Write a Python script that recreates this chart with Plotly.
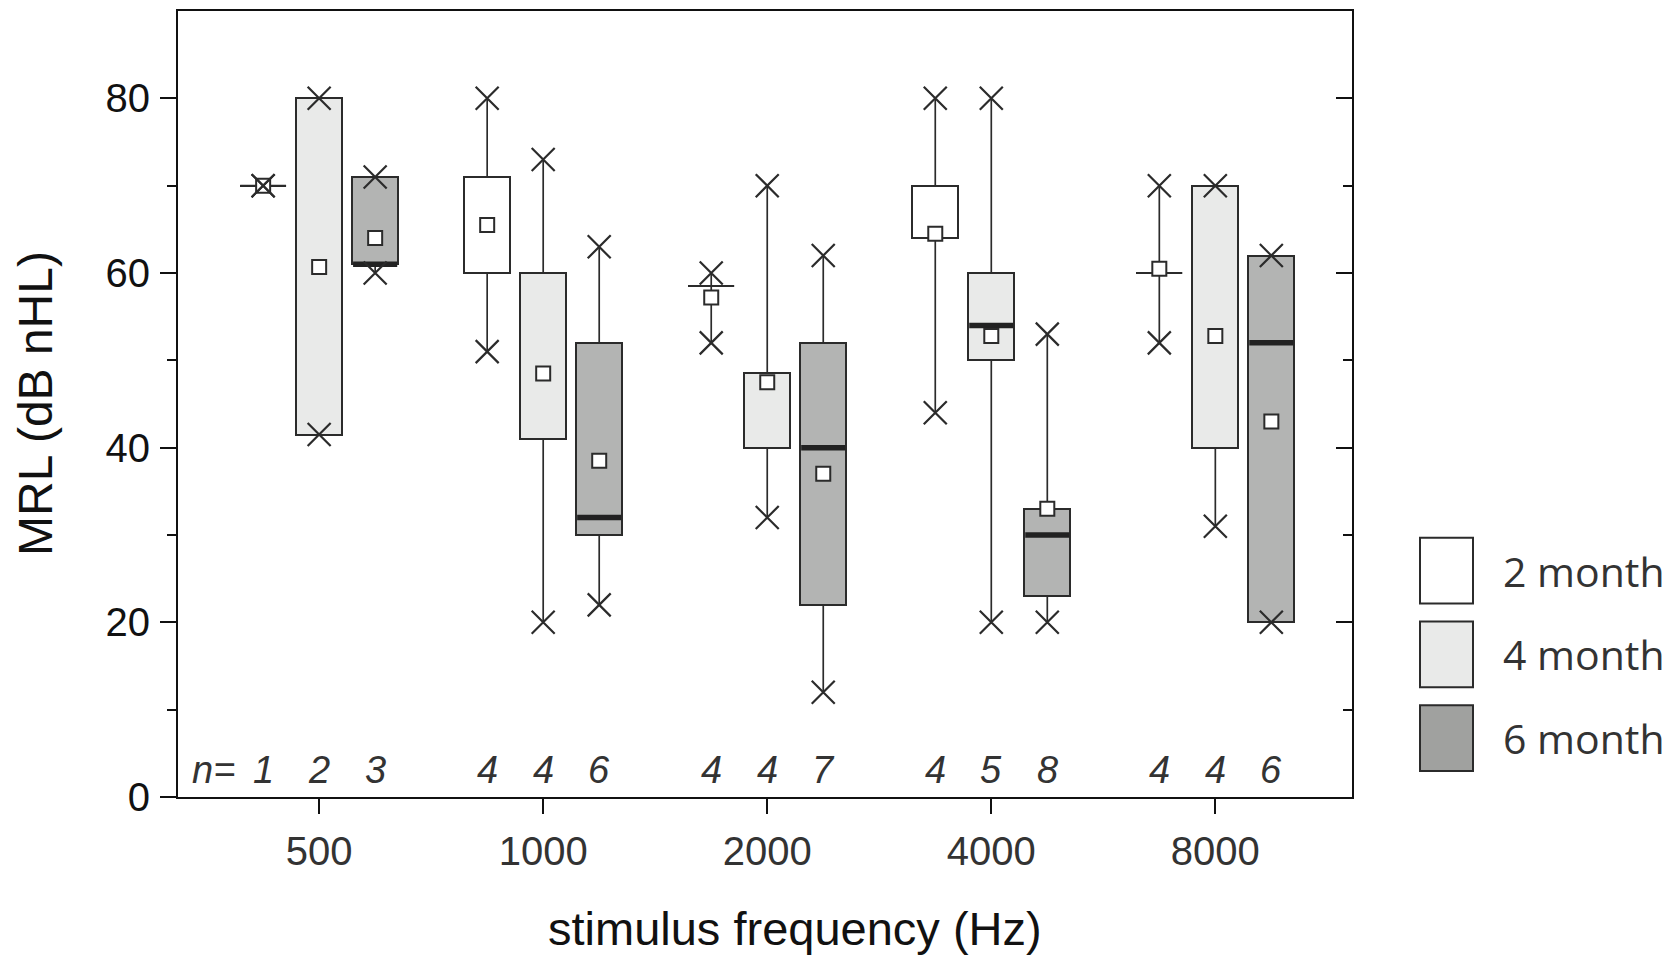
import plotly.graph_objects as go

# ---------------- data ----------------
freqs = ["500", "1000", "2000", "4000", "8000"]
groups = ["2 month", "4 month", "6 month"]

q1_2m = [70, 60, 58.5, 64, 60]
q3_2m = [70, 71, 58.5, 70, 60]
med_2m = [None, None, None, None, None]
min_2m = [70, 51, 52, 44, 52]
max_2m = [70, 80, 60, 80, 70]
mean_2m = [70, 65.5, 57.2, 64.5, 60.5]
n_2m = [1, 4, 4, 4, 4]

q1_4m = [41.5, 41, 40, 50, 40]
q3_4m = [80, 60, 48.5, 60, 70]
med_4m = [None, None, None, 54, None]
min_4m = [41.5, 20, 32, 20, 31]
max_4m = [80, 73, 70, 80, 70]
mean_4m = [60.7, 48.5, 47.5, 52.8, 52.8]
n_4m = [2, 4, 4, 5, 4]

q1_6m = [61, 30, 22, 23, 20]
q3_6m = [71, 52, 52, 33, 62]
med_6m = [61, 32, 40, 30, 52]
min_6m = [60, 22, 12, 20, 20]
max_6m = [71, 63, 62, 53, 62]
mean_6m = [64, 38.5, 37, 33, 43]
n_6m = [3, 6, 7, 8, 6]

y_ticks = [0, 20, 40, 60, 80]
y_minor = [10, 30, 50, 70]

# ---------------- style ----------------
PAGE_OFF = 8                      # default body margin of the html page
W, H = 1670 - PAGE_OFF, 958 - PAGE_OFF
ML, MR, MT, MB = 170, 318, 1, 161
LC = "#2b2b2b"
AX = "#111111"
FONT = "Liberation Sans, Arial, sans-serif"
fills = ["#ffffff", "#e9eae9", "#b3b4b3"]
legend_fills = ["#ffffff", "#e9eae9", "#a0a19f"]
offsets = [-0.25, 0.0, 0.25]
BOXW = 0.205

stats = [
    (q1_2m, q3_2m, med_2m, min_2m, max_2m, mean_2m, n_2m),
    (q1_4m, q3_4m, med_4m, min_4m, max_4m, mean_4m, n_4m),
    (q1_6m, q3_6m, med_6m, min_6m, max_6m, mean_6m, n_6m),
]

fig = go.Figure()
annotations = []

for k, (q1, q3, med, mn, mx, mean, n) in enumerate(stats):
    pos = [i + offsets[k] for i in range(len(freqs))]
    # boxes
    fig.add_trace(go.Bar(
        x=pos, y=[b - a for a, b in zip(q1, q3)], base=q1, width=BOXW,
        marker=dict(color=fills[k], line=dict(color=LC, width=2)),
        showlegend=False, hoverinfo="skip", name=groups[k]))
    # whiskers
    wx, wy = [], []
    for p, a, b, lo, hi in zip(pos, q1, q3, mn, mx):
        if lo < a:
            wx += [p, p, None]; wy += [lo, a, None]
        if hi > b:
            wx += [p, p, None]; wy += [b, hi, None]
    fig.add_trace(go.Scatter(x=wx, y=wy, mode="lines",
                             line=dict(color=LC, width=1.7),
                             showlegend=False, hoverinfo="skip"))
    # degenerate boxes (q1 == q3) drawn as thin line
    dx, dy = [], []
    for p, a, b in zip(pos, q1, q3):
        if a == b:
            dx += [p - BOXW / 2, p + BOXW / 2, None]; dy += [a, a, None]
    if dx:
        fig.add_trace(go.Scatter(x=dx, y=dy, mode="lines",
                                 line=dict(color=LC, width=2),
                                 showlegend=False, hoverinfo="skip"))
    # medians
    mxs, mys = [], []
    for p, m in zip(pos, med):
        if m is not None:
            mxs += [p - BOXW / 2 + 0.004, p + BOXW / 2 - 0.004, None]; mys += [m, m, None]
    if mxs:
        fig.add_trace(go.Scatter(x=mxs, y=mys, mode="lines",
                                 line=dict(color="#222222", width=5.5),
                                 showlegend=False, hoverinfo="skip"))
    # means
    fig.add_trace(go.Scatter(x=pos, y=mean, mode="markers",
                             marker=dict(symbol="square", size=14, color="white",
                                         line=dict(color=LC, width=2)),
                             showlegend=False, hoverinfo="skip"))
    # min / max markers
    fig.add_trace(go.Scatter(x=pos + pos, y=mn + mx, mode="markers",
                             marker=dict(symbol="x-thin-open", size=23,
                                         color=LC, line=dict(color=LC, width=2.2)),
                             showlegend=False, hoverinfo="skip"))
    # n labels
    for p, v in zip(pos, n):
        annotations.append(dict(x=p, y=3.1, xref="x", yref="y", text=f"<i>{v}</i>",
                                showarrow=False, xanchor="center", yanchor="middle",
                                font=dict(family=FONT, size=38, color="#333333")))

annotations.append(dict(x=-0.47, y=3.1, xref="x", yref="y", text="<i>n=</i>",
                        showarrow=False, xanchor="center", yanchor="middle",
                        font=dict(family=FONT, size=38, color="#333333")))

# dummy trace for the right-hand mirrored axis
fig.add_trace(go.Scatter(x=[None], y=[None], yaxis="y2", showlegend=False, hoverinfo="skip"))

pw = W - ML - MR
ph = H - MT - MB


def px_x(px):
    # px given in reference-window pixels
    return (px - PAGE_OFF - ML) / pw


def px_y(py):
    return (H - MB - (py - PAGE_OFF)) / ph


# axis titles
annotations.append(dict(x=px_x(795), y=px_y(929), xref="paper", yref="paper",
                        text="stimulus frequency (Hz)", showarrow=False,
                        xanchor="center", yanchor="middle",
                        font=dict(family=FONT, size=47, color="#111111")))
annotations.append(dict(x=px_x(35), y=px_y(403), xref="paper", yref="paper",
                        text="MRL (dB nHL)", showarrow=False, textangle=-90,
                        xanchor="center", yanchor="middle",
                        font=dict(family=FONT, size=48, color="#111111")))

# legend
shapes = []
leg_tops = [537, 621, 705]
for k, g in enumerate(groups):
    t = leg_tops[k]
    shapes.append(dict(type="rect", xref="paper", yref="paper",
                       x0=px_x(1420), x1=px_x(1473), y0=px_y(t + 66), y1=px_y(t),
                       fillcolor=legend_fills[k], line=dict(color=LC, width=2)))
    annotations.append(dict(x=px_x(1501), y=px_y(t + 33), xref="paper", yref="paper",
                            text=g, showarrow=False, xanchor="left", yanchor="middle",
                            font=dict(family="Open Sans, Noto Sans, sans-serif",
                                      size=41, color="#333333")))

fig.update_layout(
    width=W, height=H,
    margin=dict(l=ML, r=MR, t=MT, b=MB, pad=0),
    paper_bgcolor="white", plot_bgcolor="white",
    barmode="overlay", bargap=0,
    showlegend=False,
    xaxis=dict(range=[-0.63, 4.61], tickmode="array",
               tickvals=list(range(len(freqs))), ticktext=freqs,
               ticks="outside", ticklen=15, tickwidth=2, tickcolor=AX,
               showline=True, linewidth=2, linecolor=AX, mirror=True,
               showgrid=False, zeroline=False, ticklabelstandoff=3,
               tickfont=dict(family=FONT, size=40, color="#333333")),
    yaxis=dict(range=[0, 90], tickmode="array", tickvals=y_ticks,
               ticks="outside", ticklen=16, tickwidth=2, tickcolor=AX,
               minor=dict(tickmode="array", tickvals=y_minor, ticks="outside",
                          ticklen=9, tickwidth=2, tickcolor=AX, showgrid=False),
               showline=True, linewidth=2, linecolor=AX,
               showgrid=False, zeroline=False, ticklabelstandoff=2,
               tickfont=dict(family=FONT, size=40, color="#111111")),
    yaxis2=dict(range=[0, 90], overlaying="y", side="right", tickmode="array",
                tickvals=y_ticks, ticks="inside", ticklen=16, tickwidth=2,
                tickcolor=AX, showticklabels=False,
                minor=dict(tickmode="array", tickvals=y_minor, ticks="inside",
                           ticklen=9, tickwidth=2, tickcolor=AX, showgrid=False),
                showline=True, linewidth=2, linecolor=AX,
                showgrid=False, zeroline=False),
    annotations=annotations,
    shapes=shapes,
)

fig.write_html("out.html")
